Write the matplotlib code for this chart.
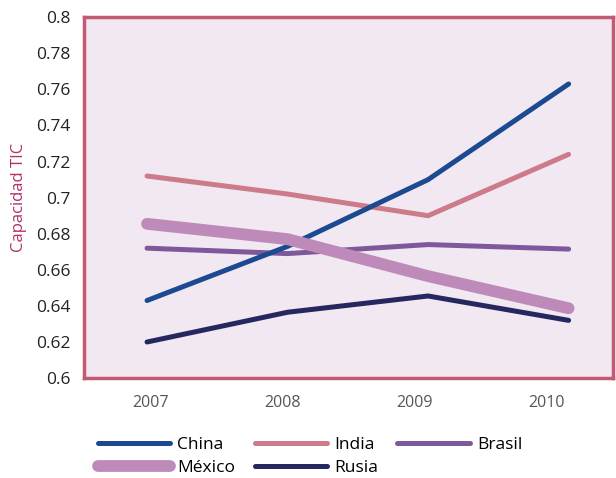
import matplotlib
matplotlib.use("Agg")
import matplotlib.pyplot as plt
from matplotlib.lines import Line2D

plt.rcParams['font.family'] = ['Open Sans', 'DejaVu Sans']

years = [2007, 2008, 2009, 2010]
year_labels = ['2007', '2008', '2009', '2010']
series_names = ['China', 'India', 'Brasil', 'México', 'Rusia']
china = [0.643, 0.673, 0.710, 0.763]
india = [0.712, 0.702, 0.690, 0.724]
brasil = [0.672, 0.669, 0.674, 0.6715]
mexico = [0.6855, 0.677, 0.6565, 0.6387]
rusia = [0.620, 0.6365, 0.6455, 0.632]
yticks = [0.6, 0.62, 0.64, 0.66, 0.68, 0.7, 0.72, 0.74, 0.76, 0.78, 0.8]
ytick_labels = ['0.6', '0.62', '0.64', '0.66', '0.68', '0.7', '0.72', '0.74', '0.76', '0.78', '0.8']

colors = {'China': '#1b4a91', 'India': '#cd7a8b', 'Brasil': '#7f589c',
          'México': '#bd8aba', 'Rusia': '#25285f'}
widths = {'China': 3.6, 'India': 3.6, 'Brasil': 3.6, 'México': 8.5, 'Rusia': 3.6}
data = {'China': china, 'India': india, 'Brasil': brasil, 'México': mexico, 'Rusia': rusia}

fig = plt.figure(figsize=(6.16, 4.78), dpi=100)
ax = fig.add_axes([0.1365, 0.209, 0.858, 0.755])
ax.set_facecolor('#f1e8f1')

draw_order = ['India', 'Brasil', 'China', 'México', 'Rusia']
for name in draw_order:
    ax.plot(years, data[name], color=colors[name], lw=widths[name],
            solid_capstyle='round', solid_joinstyle='miter', zorder=3)

ax.set_xlim(2006.552, 2010.313)
ax.set_ylim(0.6, 0.8)
ax.set_yticks(yticks)
ax.set_yticklabels(ytick_labels, fontsize=12.5, color='#222222')
ax.set_xticks([])
ax.tick_params(axis='y', length=0, pad=10)
for sp in ax.spines.values():
    sp.set_color('#c35a72')
    sp.set_linewidth(2.5)
ax.set_ylabel('Capacidad TIC', color='#b0336a', fontsize=12, labelpad=6)

# category axis for year labels
ax2 = ax.twiny()
ax2.set_xlim(0, 4)
ax2.set_xticks([0.5, 1.5, 2.5, 3.5])
ax2.set_xticklabels(year_labels, fontsize=11.5, color='#555555')
ax2.xaxis.set_ticks_position('bottom')
ax2.xaxis.set_label_position('bottom')
ax2.tick_params(axis='x', length=0, pad=12)
for sp in ax2.spines.values():
    sp.set_visible(False)

legend_order = ['China', 'México', 'India', 'Rusia', 'Brasil']
handles = [Line2D([0], [0], color=colors[n], lw=widths[n], solid_capstyle='round')
           for n in legend_order]
fig.legend(handles, legend_order, loc='lower left', bbox_to_anchor=(0.133, -0.028),
           ncol=3, frameon=False, fontsize=12.5, handlelength=4.2,
           columnspacing=1.1, handletextpad=0.4, labelspacing=0.38)

fig.savefig('out.png', dpi=100)
